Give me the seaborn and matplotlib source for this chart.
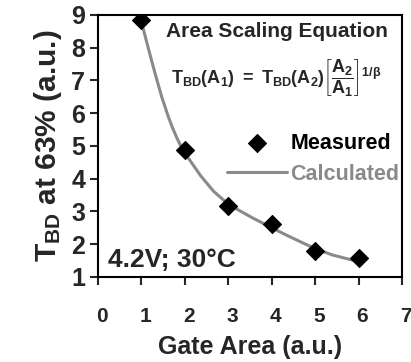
import matplotlib
matplotlib.use('Agg')
import matplotlib.pyplot as plt
import matplotlib.transforms as mtransforms
import seaborn as sns
import pandas as pd

# measured points
area = [1, 2, 3, 4, 5, 6]
tbd_measured = [8.85, 4.87, 3.18, 2.62, 1.78, 1.58]

# calculated curve
area_calc = [1.0, 1.16, 1.32, 1.47, 1.62, 1.72, 1.82, 1.91, 2.0, 2.12, 2.36,
             2.66, 2.89, 3.16, 3.55, 3.93, 4.32, 4.70, 5.01, 5.40, 5.90, 5.97]
tbd_calc = [8.81, 7.99, 7.20, 6.50, 5.90, 5.55, 5.24, 5.00, 4.80, 4.56, 4.10,
            3.62, 3.35, 3.10, 2.81, 2.55, 2.29, 2.05, 1.86, 1.67, 1.50, 1.48]

xticks = [0, 1, 2, 3, 4, 5, 6, 7]
yticks = [1, 2, 3, 4, 5, 6, 7, 8, 9]

sns.set_style('white')
plt.rcParams['font.family'] = ['Liberation Sans', 'DejaVu Sans']
plt.rcParams['font.weight'] = 'bold'
plt.rcParams['mathtext.fontset'] = 'custom'
plt.rcParams['mathtext.rm'] = 'Liberation Sans:bold'
plt.rcParams['mathtext.bf'] = 'Liberation Sans:bold'
plt.rcParams['mathtext.it'] = 'Liberation Sans:bold'
plt.rcParams['mathtext.sf'] = 'Liberation Sans:bold'

meas = pd.DataFrame({'area': area, 'tbd': tbd_measured})
calc = pd.DataFrame({'area': area_calc, 'tbd': tbd_calc})

fig = plt.figure(figsize=(4.11, 3.62), dpi=100)
ax = fig.add_axes([0.238, 0.235, 0.740, 0.724])

sns.lineplot(data=calc, x='area', y='tbd', color='#8a8a8a', linewidth=2.2,
             label='Calculated', ax=ax, zorder=2, sort=False)
sns.scatterplot(data=meas, x='area', y='tbd', marker='D', s=85, color='black',
                edgecolor='black', label='Measured', ax=ax, zorder=3)

ax.set_xlim(0, 7)
ax.set_ylim(1, 9)
ax.set_xticks(xticks, labels=[str(t) for t in xticks], fontweight='bold',
              fontsize=15)
ax.set_yticks(yticks, labels=[str(t) for t in yticks], fontweight='bold',
              fontsize=18)
ax.tick_params(axis='x', direction='out', length=6, width=1.5, pad=16,
               bottom=True)
ax.tick_params(axis='y', direction='out', length=6, width=1.5, pad=3,
               left=True)
# x tick labels sit a little right of their ticks in the original
shift = mtransforms.ScaledTranslation(4 / 100, 0, fig.dpi_scale_trans)
for lab in ax.get_xticklabels():
    lab.set_transform(lab.get_transform() + shift)
for sp in ax.spines.values():
    sp.set_color('black')
    sp.set_linewidth(1.5)

ax.set_xlabel('Gate Area (a.u.)', fontsize=18, fontweight='bold', labelpad=6)
ax.set_ylabel(r'T$_{\mathrm{BD}}$ at 63% (a.u.)', fontsize=21.5,
              fontweight='bold', labelpad=5)

handles, labels = ax.get_legend_handles_labels()
order = [labels.index('Measured'), labels.index('Calculated')]
ax.legend([handles[i] for i in order], [labels[i] for i in order],
          loc='upper left', bbox_to_anchor=(227 / 411, 1 - 133 / 362),
          bbox_transform=fig.transFigure, frameon=False,
          prop={'weight': 'bold', 'size': 15.5}, labelcolor=['black', '#8a8a8a'],
          handlelength=2.8, handletextpad=0.15, labelspacing=0.45,
          borderpad=0, borderaxespad=0)

ax.text(0.589, 0.935, 'Area Scaling Equation', transform=ax.transAxes,
        ha='center', va='center', fontsize=15, fontweight='bold')
ax.text(0.586, 0.76,
        r'$\mathrm{T_{BD}(A_1)\ =\ T_{BD}(A_2)}\left[\dfrac{A_2}{A_1}\right]^{1/\beta}$',
        transform=ax.transAxes, ha='center', va='center', fontsize=13)
ax.text(0.033, 0.065, '4.2V; 30°C', transform=ax.transAxes,
        ha='left', va='center', fontsize=19, fontweight='bold')

fig.savefig('out.png', dpi=100)
